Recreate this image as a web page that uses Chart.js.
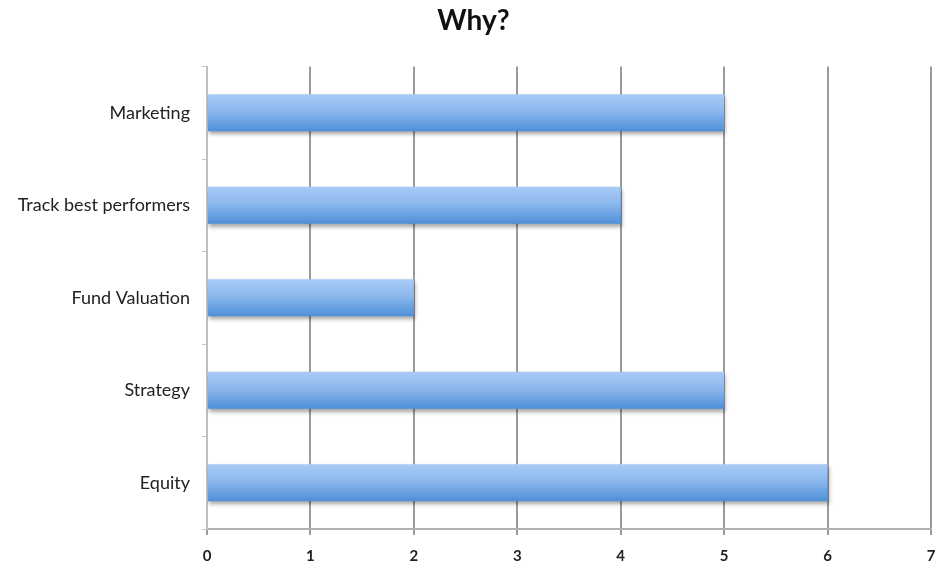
<!DOCTYPE html>
<html>
<head>
<meta charset="utf-8">
<script src="https://cdn.jsdelivr.net/npm/chart.js@4"></script>
<style>
  html, body { margin: 0; padding: 0; background: #fff; }
  #wrap { width: 938px; height: 569px; }
</style>
</head>
<body>
<div id="wrap"><canvas id="whyChart"></canvas></div>
<script>
// Why? - answers per reason
const reasons = ["Marketing", "Track best performers", "Fund Valuation", "Strategy", "Equity"];
const counts = [5, 4, 2, 5, 6];
const xTicks = [0, 1, 2, 3, 4, 5, 6, 7];

const BAR_SHARE = 0.4;

// vertical light-to-dark blue gradient, built per bar from the category scale
function barGradient(context) {
  const chart = context.chart;
  const yScale = chart.scales.y;
  if (!chart.chartArea || !yScale) return "#8ab6ec";
  const center = yScale.getPixelForValue(context.dataIndex);
  const half = ((yScale.bottom - yScale.top) / reasons.length) * BAR_SHARE / 2;
  const g = chart.ctx.createLinearGradient(0, center - half, 0, center + half);
  g.addColorStop(0, "#a9cbf6");
  g.addColorStop(0.45, "#8cb8ee");
  g.addColorStop(1, "#4e8fd7");
  return g;
}

// soft drop shadow under the bars
const barShadow = {
  id: "barShadow",
  beforeDatasetsDraw(chart) {
    const c = chart.ctx;
    c.save();
    c.shadowColor = "rgba(0,0,0,0.35)";
    c.shadowBlur = 4;
    c.shadowOffsetX = 1;
    c.shadowOffsetY = 3;
  },
  afterDatasetsDraw(chart) {
    chart.ctx.restore();
  },
};

const ctx = document.getElementById("whyChart").getContext("2d");

new Chart(ctx, {
  type: "bar",
  data: {
    labels: reasons,
    datasets: [
      {
        data: counts,
        backgroundColor: barGradient,
        borderWidth: 0,
        barPercentage: BAR_SHARE,
        categoryPercentage: 1,
      },
    ],
  },
  options: {
    indexAxis: "y",
    responsive: true,
    maintainAspectRatio: false,
    animation: false,
    layout: { padding: { top: 0, right: 7, left: 16, bottom: 4 } },
    plugins: {
      legend: { display: false },
      tooltip: { enabled: false },
      title: {
        display: true,
        text: "Why?",
        color: "#111",
        font: { family: "Lato", size: 28, weight: "bold" },
        padding: { top: 4, bottom: 29 },
      },
    },
    scales: {
      x: {
        min: 0,
        max: 7,
        afterBuildTicks(axis) {
          axis.ticks = xTicks.map((v) => ({ value: v }));
        },
        afterFit(axis) {
          axis.height = 36;
          axis.paddingLeft = 0;
          axis.paddingRight = 0;
        },
        grid: {
          color: "#9a9a9a",
          lineWidth: 2,
          tickLength: 6,
        },
        border: { color: "#b0b0b0", width: 2 },
        ticks: {
          color: "#222",
          padding: 12,
          font: { family: "Lato", size: 15, weight: "bold" },
        },
      },
      y: {
        offset: true,
        afterFit(axis) {
          axis.width = 191;
        },
        grid: {
          offset: true,
          drawOnChartArea: false,
          tickLength: 5,
          color: "#c8c8c8",
        },
        border: { color: "#c0c0c0", width: 2 },
        ticks: {
          color: "#222",
          padding: 12,
          font: { family: "Lato", size: 18 },
        },
      },
    },
  },
  plugins: [barShadow],
});
</script>
</body>
</html>
